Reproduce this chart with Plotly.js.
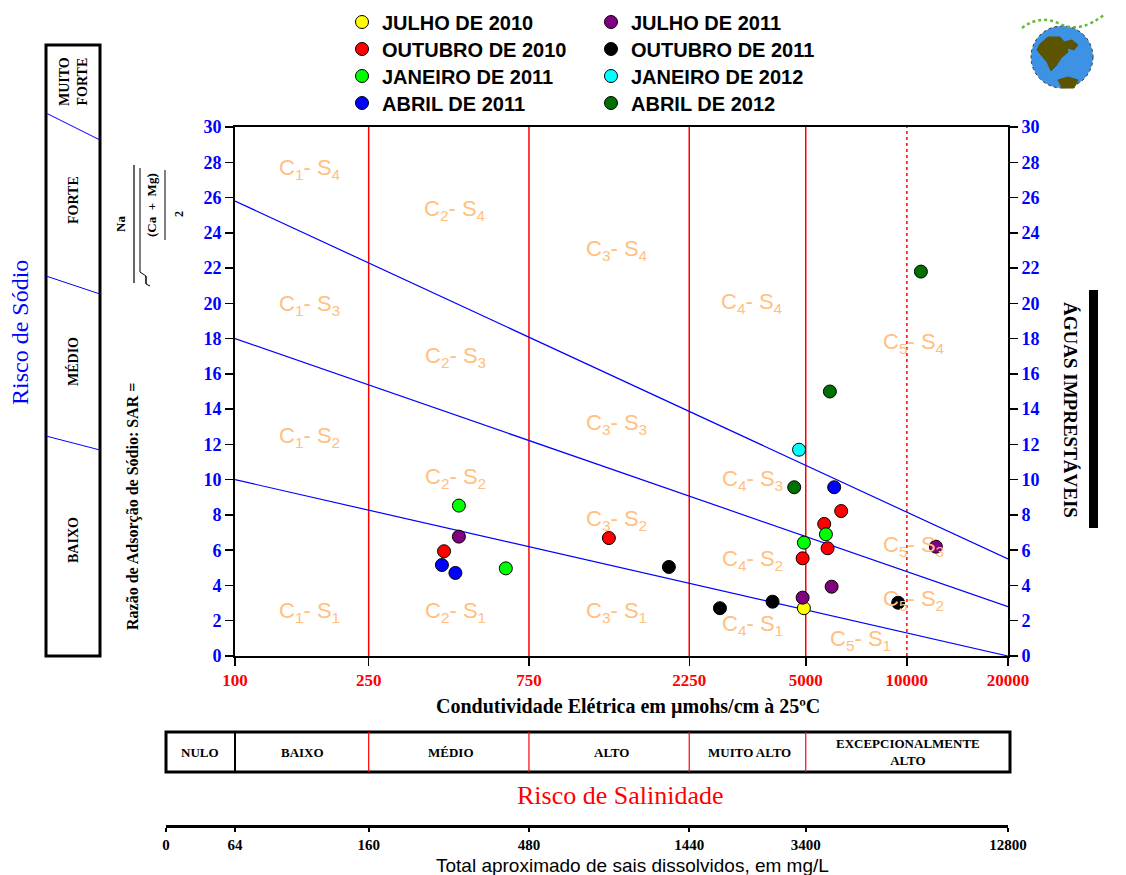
<!DOCTYPE html>
<html>
<head>
<meta charset="utf-8">
<script src="https://cdn.plot.ly/plotly-3.0.1.min.js"></script>
<style>html,body{margin:0;padding:0;background:#fff;}#chart{width:1126px;height:875px;}</style>
</head>
<body>
<div id="chart"></div>
<script>
// ---------------- DATA ----------------
const seriesNames = ['JULHO DE 2010','OUTUBRO DE 2010','JANEIRO DE 2011','ABRIL DE 2011',
                     'JULHO DE 2011','OUTUBRO DE 2011','JANEIRO DE 2012','ABRIL DE 2012'];
const seriesColors = ['#ffff00','#ff0000','#00ff00','#0000ff','#800080','#000000','#00ffff','#007000'];
// Electrical conductivity (µmhos/cm) and SAR for each campaign
const ecJul2010 = [4937];                 const sarJul2010 = [2.71];
const ecOut2010 = [419, 1297, 4894, 5675, 5807, 6375];
const sarOut2010 = [5.94, 6.69, 5.54, 7.49, 6.11, 8.22];
const ecJan2011 = [464, 640, 4937, 5741]; const sarJan2011 = [8.53, 4.97, 6.43, 6.90];
const ecAbr2011 = [413, 453, 6076];       const sarAbr2011 = [5.16, 4.71, 9.57];
const ecJul2011 = [464, 4894, 5970, 12200]; const sarJul2011 = [6.77, 3.31, 3.93, 6.20];
const ecOut2011 = [1957, 2777, 3983, 9420]; const sarOut2011 = [5.05, 2.71, 3.08, 3.02];
const ecJan2012 = [4776];                 const sarJan2012 = [11.7];
const ecAbr2012 = [4620, 5900, 11010];    const sarAbr2012 = [9.57, 15.0, 21.8];

// Classification boundaries
const ecBounds = [250, 750, 2250, 5000];   // solid salinity class limits
const ecDotted = [10000];                  // dotted limit
const sarLineEC = [100, 20000];            // ends of the sodium-hazard lines
const sarS1S2 = [10, 0];
const sarS2S3 = [18, 2.8];
const sarS3S4 = [25.8, 5.5];

// Axes
const sarTicks = [0,2,4,6,8,10,12,14,16,18,20,22,24,26,28,30];
const ecTicks = [100, 250, 750, 2250, 5000, 10000, 20000];
const tdsTickEC = [62.3, 100, 250, 750, 2250, 5000, 20000];
const tdsTickText = ['0','64','160','480','1440','3400','12800'];

// Zone labels (C = salinity class, S = sodium class)
const zoneC = ['1','2','3','4','5', '1','2','3','4','5', '1','2','3','4','5', '1','2','3','4','5'];
const zoneS = ['4','4','4','4','4', '3','3','3','3','3', '2','2','2','2','2', '1','1','1','1','1'];

// Risk categories
const sodiumRisk = ['MUITO<br>FORTE','FORTE','MÉDIO','BAIXO'];
const salinityRisk = ['NULO','BAIXO','MÉDIO','ALTO','MUITO ALTO','EXCEPCIONALMENTE<br>ALTO'];

// ---------------- LAYOUT HELPERS ----------------
const L = 166, R = 1008, T = 127, B = 826;
const PX = p => (p - L) / (R - L);
const PY = p => (B - p) / (B - T);
const serif = 'Liberation Serif, Times New Roman, serif';
const sans = 'Liberation Sans, Arial, sans-serif';

const ecSeries = [ecJul2010, ecOut2010, ecJan2011, ecAbr2011, ecJul2011, ecOut2011, ecJan2012, ecAbr2012];
const sarSeries = [sarJul2010, sarOut2010, sarJan2011, sarAbr2011, sarJul2011, sarOut2011, sarJan2012, sarAbr2012];

const traces = [];
// vertical salinity limits
const vx = [], vy = [];
ecBounds.forEach(e => { vx.push(e, e, null); vy.push(0, 30, null); });
traces.push({x: vx, y: vy, mode: 'lines', line: {color: '#ff0000', width: 1.5}, showlegend: false, hoverinfo: 'skip'});
const dx = [], dy = [];
ecDotted.forEach(e => { dx.push(e, e, null); dy.push(0, 30, null); });
traces.push({x: dx, y: dy, mode: 'lines', line: {color: '#ff0000', width: 1.5, dash: 'dot'}, showlegend: false, hoverinfo: 'skip'});
// sodium hazard lines
[sarS1S2, sarS2S3, sarS3S4].forEach(s => {
  traces.push({x: sarLineEC, y: s, mode: 'lines', line: {color: '#0000ff', width: 1.2}, showlegend: false, hoverinfo: 'skip'});
});
// data points: each legend entry gets its own legend box (two columns of four rows)
const legendIds = ['legend','legend3','legend5','legend7','legend2','legend4','legend6','legend8'];
seriesNames.forEach((n, i) => {
  traces.push({
    x: ecSeries[i], y: sarSeries[i], name: n, type: 'scatter', mode: 'markers',
    marker: {color: seriesColors[i], size: 13, line: {color: '#000', width: 1}},
    legend: legendIds[i]
  });
});
// dummy traces for right SAR axis and TDS axis
traces.push({x: [], y: [], yaxis: 'y2', showlegend: false, hoverinfo: 'skip'});
traces.push({x: [], y: [], xaxis: 'x2', showlegend: false, hoverinfo: 'skip'});

// zone label positions (log10 EC, SAR)
const zonePos = [
  [2.223, 27.6],[2.655, 25.3],[3.137, 23.0],[3.539, 20.0],[4.021, 17.75],
  [2.223, 19.9],[2.655, 16.96],[3.137, 13.16],[3.539, 9.98],[4.021, 6.24],
  [2.223, 12.42],[2.655, 10.1],[3.137, 7.71],[3.539, 5.45],[4.021, 3.18],
  [2.223, 2.5],[2.655, 2.5],[3.137, 2.5],[3.539, 1.76],[3.861, 0.9]
];

const ann = [];
zoneC.forEach((c, i) => {
  ann.push({xref: 'x', yref: 'y', x: zonePos[i][0], y: zonePos[i][1], showarrow: false,
    text: 'C<sub>' + c + '</sub>- S<sub>' + zoneS[i] + '</sub>',
    font: {family: sans, size: 22, color: '#ffc080'}});
});
function pa(text, x, y, font, extra) {
  ann.push(Object.assign({xref: 'paper', yref: 'paper', x: PX(x), y: PY(y), text: text, showarrow: false,
    xanchor: 'center', yanchor: 'middle', font: font}, extra || {}));
}
// left side
pa('Risco de Sódio', 20, 333, {family: serif, size: 24, color: '#0000ff'}, {textangle: -90});
const srY = [82, 200, 362, 540];
sodiumRisk.forEach((t, i) => pa(t, 73, srY[i], {family: serif, size: 14, color: '#000', weight: 'bold'}, {textangle: -90}));
pa('Razão de Adsorção de Sódio: SAR =', 133, 507, {family: serif, size: 16, color: '#000', weight: 'bold'}, {textangle: -90});
pa('Na', 121, 224, {family: serif, size: 13, color: '#000', weight: 'bold'}, {textangle: -90});
pa('(Ca&#160;&#160;+&#160;&#160;Mg)', 151, 205, {family: serif, size: 13, color: '#000', weight: 'bold'}, {textangle: -90});
pa('2', 179, 214, {family: serif, size: 12, color: '#000', weight: 'bold'}, {textangle: -90});
// right side
pa('ÁGUAS IMPRESTÁVEIS', 1071, 410, {family: serif, size: 19, color: '#000', weight: 'bold'}, {textangle: 90});
// bottom
pa('Condutividade Elétrica em µmohs/cm à 25ºC', 628, 706, {family: serif, size: 20, color: '#000', weight: 'bold'});
const salX = [200, 302, 451, 611, 749, 908];
salinityRisk.forEach((t, i) => pa(t, salX[i], 752, {family: serif, size: 13, color: '#000', weight: 'bold'}));
pa('Risco de Salinidade', 620, 795, {family: serif, size: 26, color: '#ff0000'});
pa('Total aproximado de sais dissolvidos, em mg/L', 632, 865, {family: sans, size: 19, color: '#000'});

// shapes
const shp = [];
function pline(x0, y0, x1, y1, color, width, dash) {
  shp.push({type: 'line', xref: 'paper', yref: 'paper', x0: PX(x0), y0: PY(y0), x1: PX(x1), y1: PY(y1),
    line: {color: color, width: width, dash: dash || 'solid'}});
}
function prect(x0, y0, x1, y1, lineColor, width, fill) {
  shp.push({type: 'rect', xref: 'paper', yref: 'paper', x0: PX(x0), y0: PY(y0), x1: PX(x1), y1: PY(y1),
    line: {color: lineColor, width: width}, fillcolor: fill || 'rgba(0,0,0,0)'});
}
function ppath(pts, fill, lineColor) {
  const d = pts.map((p, i) => (i ? 'L' : 'M') + PX(p[0]).toFixed(5) + ',' + PY(p[1]).toFixed(5)).join(' ') + ' Z';
  shp.push({type: 'path', xref: 'paper', yref: 'paper', path: d, fillcolor: fill, line: {color: lineColor || fill, width: 1}});
}
// sodium risk box
prect(46, 45, 100, 656, '#000', 3);
pline(46, 113, 100, 140, '#0000ff', 1);
pline(46, 276, 100, 294, '#0000ff', 1);
pline(46, 436, 100, 450, '#0000ff', 1);
// SAR formula bars
pline(134, 165, 134, 283, '#000', 1.2);
pline(140, 168, 140, 272, '#000', 1);
pline(165, 170, 165, 240, '#000', 1);
pline(140, 272, 146, 276, '#000', 1);
pline(146, 276, 146, 284, '#000', 1.5);
pline(146, 284, 150, 286, '#000', 1);
// impróprias bar
prect(1089, 290, 1098, 528, '#000', 0, '#000');
// salinity risk box
prect(166, 732, 1010, 772, '#000', 3);
pline(235, 732, 235, 772, '#000', 2);
ecBounds.forEach(e => shp.push({type: 'line', xref: 'x', yref: 'paper', x0: e, x1: e, y0: PY(772), y1: PY(732),
  line: {color: '#ff0000', width: 1.2}}));
// globe logo
shp.push({type: 'circle', xref: 'paper', yref: 'paper', x0: PX(1031), x1: PX(1093), y0: PY(88), y1: PY(26),
  fillcolor: '#3d92e4', line: {color: '#333', width: 1, dash: 'dot'}});
ppath([[1040,44],[1048,37],[1060,37],[1066,44],[1068,52],[1061,58],[1056,66],[1051,71],[1047,62],[1041,55],[1037,50]], '#5c5400');
ppath([[1064,42],[1072,40],[1078,45],[1074,50],[1067,48]], '#5c5400');
ppath([[1058,80],[1068,77],[1078,80],[1074,88],[1062,88]], '#5c5400');
shp.push({type: 'path', xref: 'paper', yref: 'paper',
  path: 'M' + PX(1022) + ',' + PY(28) + ' Q' + PX(1040) + ',' + PY(14) + ' ' + PX(1060) + ',' + PY(24) +
        ' T' + PX(1105) + ',' + PY(14),
  line: {color: '#66bb33', width: 2.5, dash: 'dot'}});

const layout = {
  width: 1126, height: 875,
  margin: {l: L, r: 1126 - R, t: T, b: 875 - B, pad: 0, autoexpand: false},
  paper_bgcolor: '#ffffff', plot_bgcolor: 'rgba(0,0,0,0)',
  showlegend: true,
  xaxis: {
    type: 'log', range: [2, Math.log10(20000)], domain: [(235 - L) / (R - L), 1], anchor: 'y',
    tickvals: ecTicks, ticktext: ecTicks.map(String), ticks: 'outside', ticklen: 8, tickwidth: 1.5, tickcolor: '#000',
    showline: true, linecolor: '#000', linewidth: 2, mirror: true, showgrid: false, zeroline: false,
    tickfont: {family: serif, size: 17, color: '#ff0000', weight: 'bold'}, fixedrange: true, automargin: false
  },
  yaxis: {
    range: [0, 30], domain: [(B - 656) / (B - T), 1], anchor: 'x',
    tickvals: sarTicks, ticks: 'outside', ticklen: 8, tickwidth: 1.5, tickcolor: '#000',
    showline: true, linecolor: '#000', linewidth: 2, showgrid: false, zeroline: false,
    tickfont: {family: serif, size: 18, color: '#0000ff', weight: 'bold'}, fixedrange: true, automargin: false
  },
  yaxis2: {
    range: [0, 30], overlaying: 'y', side: 'right', anchor: 'x',
    tickvals: sarTicks, ticks: 'outside', ticklen: 8, tickwidth: 1.5, tickcolor: '#000',
    showline: true, linecolor: '#000', linewidth: 2, showgrid: false, zeroline: false,
    tickfont: {family: serif, size: 18, color: '#0000ff', weight: 'bold'}, fixedrange: true, automargin: false
  },
  xaxis2: {
    type: 'log', range: [Math.log10(62.3), Math.log10(20000)], domain: [0, 1], anchor: 'free', position: 0,
    tickvals: tdsTickEC, ticktext: tdsTickText, ticks: 'outside', ticklen: 4, tickwidth: 2, tickcolor: '#000',
    showline: true, linecolor: '#000', linewidth: 3, showgrid: false, zeroline: false,
    tickfont: {family: serif, size: 15, color: '#000', weight: 'bold'}, fixedrange: true, automargin: false
  },
  annotations: ann,
  shapes: shp
};
// legend boxes: left column rows then right column rows
const legendFont = {family: sans, size: 20, color: '#000', weight: 'bold'};
const rowY = [22, 49, 76, 103];
legendIds.forEach((id, i) => {
  const col = i < 4 ? 0 : 1, row = i % 4;
  layout[id] = {x: PX(col ? 591 : 342), y: PY(rowY[row]), xanchor: 'left', yanchor: 'middle',
    bgcolor: 'rgba(0,0,0,0)', font: legendFont, borderwidth: 0};
});

Plotly.newPlot('chart', traces, layout, {displayModeBar: false, staticPlot: true});
</script>
</body>
</html>
